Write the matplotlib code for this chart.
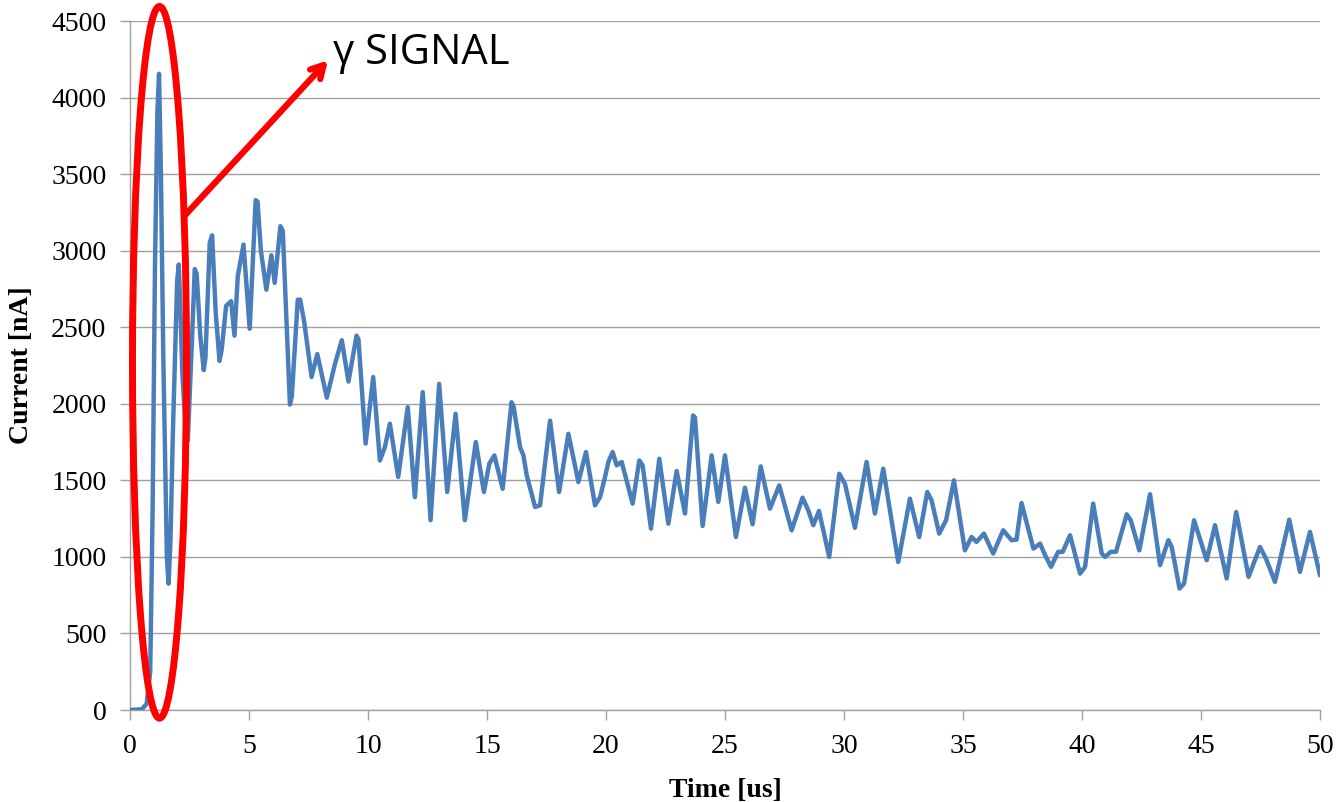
#!/usr/bin/env python3
"""Current vs time trace with the gamma signal highlighted."""

import matplotlib
matplotlib.use('Agg')
import matplotlib.pyplot as plt
from matplotlib.patches import Ellipse

# Values (time in us, current in nA)
time_us = [0, 0.5, 0.7, 0.85, 0.95, 1.05, 1.15, 1.22, 1.3, 1.4, 1.55, 1.62, 1.7, 1.8,
           1.98, 2.05, 2.12, 2.2, 2.35, 2.43, 2.6, 2.72, 2.8, 2.95, 3.1, 3.17, 3.35,
           3.45, 3.6, 3.76, 3.85, 4.04, 4.25, 4.39, 4.53, 4.77, 5.03, 5.28, 5.36,
           5.5, 5.73, 5.94, 6.08, 6.32, 6.42, 6.72, 6.8, 7.05, 7.15, 7.32, 7.63,
           7.87, 8.27, 8.62, 8.9, 9.18, 9.52, 9.6, 9.9, 10.22, 10.5, 10.71, 10.92,
           11.27, 11.67, 11.97, 12.3, 12.63, 12.99, 13.33, 13.68, 14.07, 14.53,
           14.87, 15.1, 15.31, 15.66, 16.03, 16.12, 16.39, 16.53, 16.67, 17.02,
           17.23, 17.65, 18.03, 18.42, 18.84, 19.16, 19.54, 19.75, 19.96, 20.1,
           20.28, 20.45, 20.66, 21.12, 21.4, 21.54, 21.89, 22.24, 22.62, 22.97,
           23.32, 23.66, 23.74, 24.06, 24.44, 24.72, 25.0, 25.46, 25.84, 26.16,
           26.5, 26.89, 27.28, 27.8, 28.26, 28.5, 28.71, 28.95, 29.38, 29.8,
           30.04, 30.46, 30.95, 31.3, 31.65, 32.28, 32.77, 33.16, 33.5, 33.68,
           34.0, 34.29, 34.62, 35.08, 35.36, 35.57, 35.88, 36.27, 36.69, 37.04,
           37.25, 37.46, 37.96, 38.24, 38.45, 38.7, 39.0, 39.19, 39.5, 39.92,
           40.13, 40.47, 40.83, 40.97, 41.21, 41.43, 41.88, 42.05, 42.41, 42.86,
           43.28, 43.63, 43.77, 44.1, 44.29, 44.71, 45.24, 45.59, 46.08, 46.48,
           47.0, 47.48, 47.73, 48.11, 48.71, 49.16, 49.58, 50.0]
current_na = [0, 5, 40, 250, 1300, 2900, 3900, 4155, 3500, 2300, 1000, 825, 1100, 1800,
              2800, 2910, 2600, 2200, 1800, 1760, 2400, 2880, 2850, 2450, 2220, 2300, 3050,
              3100, 2600, 2280, 2350, 2640, 2670, 2445, 2835, 3040, 2490, 3330, 3320,
              3000, 2745, 2970, 2790, 3160, 3130, 1995, 2050, 2680, 2680, 2535, 2175,
              2325, 2040, 2265, 2415, 2145, 2445, 2420, 1740, 2175, 1630, 1717, 1870,
              1522, 1978, 1390, 2076, 1240, 2130, 1424, 1935, 1240, 1750,
              1424, 1610, 1663, 1445, 2010, 1980, 1717, 1663, 1533, 1326,
              1337, 1890, 1424, 1804, 1489, 1685, 1337, 1390, 1522, 1620,
              1685, 1598, 1620, 1348, 1630, 1598, 1185, 1641, 1217, 1561,
              1283, 1924, 1910, 1202, 1663, 1359, 1663, 1130, 1452, 1213,
              1591, 1315, 1467, 1174, 1387, 1304, 1207, 1300, 1000, 1543,
              1478, 1190, 1620, 1283, 1576, 967, 1380, 1130, 1424, 1370,
              1152, 1239, 1500, 1043, 1130, 1098, 1152, 1022, 1174, 1109,
              1113, 1352, 1054, 1087, 1011, 935, 1033, 1033, 1141, 891,
              935, 1348, 1022, 1000, 1033, 1033, 1278, 1239, 1043, 1409,
              946, 1109, 1065, 793, 826, 1239, 978, 1207, 859, 1293,
              870, 1065, 989, 837, 1243, 902, 1163, 880]

x_ticks = list(range(0, 51, 5))
y_ticks = list(range(0, 4501, 500))

fig = plt.figure(figsize=(13.36, 8.02), dpi=100)
fig.patch.set_facecolor('white')
ax = fig.add_axes([0.0973, 0.1147, 0.8907, 0.8591])

ax.plot(time_us, current_na, color='#4A7EBB', linewidth=3.2,
        solid_joinstyle='round', solid_capstyle='round', zorder=3)

ax.set_xlim(0, 50)
ax.set_ylim(0, 4500)
ax.set_xticks(x_ticks)
ax.set_yticks(y_ticks)

# Excel-like styling
ax.grid(True, axis='y', color='#A0A0A0', linewidth=1.0)
ax.set_axisbelow(True)
for side in ['top', 'right']:
    ax.spines[side].set_visible(False)
for side in ['left', 'bottom']:
    ax.spines[side].set_color('#A0A0A0')
    ax.spines[side].set_linewidth(1.0)
ax.tick_params(axis='both', colors='#A0A0A0', length=7, width=1.0,
               labelcolor='black', labelsize=20)
ax.tick_params(axis='x', pad=10)
ax.tick_params(axis='y', pad=10)
for lbl in ax.get_xticklabels() + ax.get_yticklabels():
    lbl.set_family('Liberation Serif')

ax.set_xlabel('Time [us]', fontsize=20, fontweight='bold',
              family='Liberation Serif', labelpad=14)
ax.set_ylabel('Current [nA]', fontsize=20, fontweight='bold',
              family='Liberation Serif', labelpad=12)

# Highlight of the gamma signal
ax.add_patch(Ellipse((1.24, 2271), 2.27, 4648, fill=False, edgecolor='#FF0000',
                     linewidth=5, clip_on=False, zorder=4))
ax.annotate('', xy=(8.32, 4243), xytext=(2.31, 3231),
            arrowprops=dict(arrowstyle='->, head_length=0.9, head_width=0.5',
                            color='#FF0000', lw=4.5, shrinkA=0, shrinkB=0),
            zorder=4)
ax.text(8.55, 4290, 'γ SIGNAL', fontsize=30, family=['Open Sans', 'DejaVu Sans'],
        ha='left', va='center', color='black', zorder=5)

plt.savefig('out.png', dpi=100, facecolor='white')
plt.close(fig)
